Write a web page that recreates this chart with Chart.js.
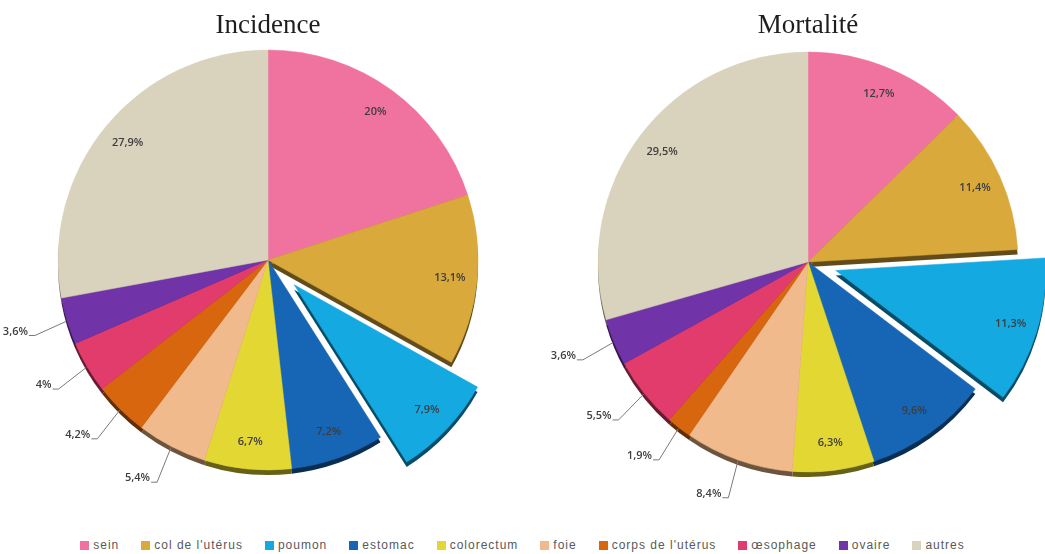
<!DOCTYPE html>
<html>
<head>
<meta charset="utf-8">
<script src="https://cdn.jsdelivr.net/npm/chart.js@4/dist/chart.umd.min.js"></script>
<style>
  html, body { margin: 0; padding: 0; background: #ffffff; width: 1045px; height: 554px; overflow: hidden; }
  #wrap { position: relative; width: 1045px; height: 554px; }
  canvas { position: absolute; left: 0; top: 0; }
  #legend { position: absolute; left: 0; top: 536px; width: 1045px; display: flex; justify-content: center;
            gap: 22px; font: 12px "Liberation Sans", Arial, sans-serif; letter-spacing: 1px;
            color: #595959; line-height: 18px; }
  #legend span.item { display: flex; align-items: center; white-space: nowrap; }
  #legend span.box { display: inline-block; width: 9px; height: 9px; margin-right: 4px; }
</style>
</head>
<body>
<div id="wrap">
  <canvas id="inc" width="1045" height="516"></canvas>
  <canvas id="mor" width="1045" height="516"></canvas>
  <div id="legend"></div>
</div>
<script>
// Cancer sites, clockwise from 12 o'clock
const categories = ['sein', "col de l'utérus", 'poumon', 'estomac', 'colorectum', 'foie',
                    "corps de l'utérus", 'œsophage', 'ovaire', 'autres'];
// Share of cases (%)
const incidence = [20, 13.1, 7.9, 7.2, 6.7, 5.4, 4.2, 4, 3.6, 27.9];
// Share of deaths (%)
const mortalite = [12.7, 11.4, 11.3, 9.6, 6.3, 8.4, 1.9, 5.5, 3.6, 29.5];
const colors = ['#F0729F', '#D9A93C', '#15A9E1', '#1766B6', '#E2D733', '#F0BA8C',
                '#D8660F', '#E13C6B', '#7133A8', '#D9D2BD'];

// Slice pulled out of the pie, and the slices labelled outside with a leader line
const explodedSlice = 2;
const outsideSlices = [5, 6, 7, 8];

const fmt = v => String(v).replace('.', ',') + '%';

function darker(hex, k) {
  const n = parseInt(hex.slice(1), 16);
  const r = Math.round(((n >> 16) & 255) * k), g = Math.round(((n >> 8) & 255) * k), b = Math.round((n & 255) * k);
  return `rgb(${r},${g},${b})`;
}

// Draws the slices with a shallow extruded rim and one slice pulled outwards
const pieDepth = {
  id: 'pieDepth',
  beforeDatasetDraw(chart, args, opts) {
    const ctx = chart.ctx;
    const arcs = args.meta.data;
    const shift = (arc, i) => {
      if (i !== explodedSlice) return [0, 0];
      const mid = (arc.startAngle + arc.endAngle) / 2;
      return [Math.cos(mid) * opts.explode, Math.sin(mid) * opts.explode];
    };
    // rim
    arcs.forEach((arc, i) => {
      const [dx, dy] = shift(arc, i);
      ctx.save();
      ctx.translate(dx + opts.depthX, dy + opts.depthY);
      ctx.beginPath();
      ctx.moveTo(arc.x, arc.y);
      ctx.arc(arc.x, arc.y, arc.outerRadius, arc.startAngle, arc.endAngle);
      ctx.closePath();
      ctx.fillStyle = darker(colors[i], 0.45);
      ctx.fill();
      ctx.restore();
    });
    // faces
    arcs.forEach((arc, i) => {
      const [dx, dy] = shift(arc, i);
      ctx.save();
      ctx.translate(dx, dy);
      arc.draw(ctx);
      ctx.restore();
    });
    return false;
  },
  afterDatasetsDraw(chart, args, opts) {
    const ctx = chart.ctx;
    const meta = chart.getDatasetMeta(0);
    const values = chart.data.datasets[0].data;
    ctx.save();
    ctx.font = '600 11px "Open Sans", "Liberation Sans", sans-serif';
    ctx.fillStyle = '#3d3d3d';
    ctx.textBaseline = 'middle';
    meta.data.forEach((arc, i) => {
      const mid = (arc.startAngle + arc.endAngle) / 2;
      const cx = Math.cos(mid), sy = Math.sin(mid);
      const r = arc.outerRadius;
      let ox = 0, oy = 0;
      if (i === explodedSlice) { ox = cx * opts.explode; oy = sy * opts.explode; }
      const text = fmt(values[i]);
      if (outsideSlices.includes(i)) {
        const ex = arc.x + cx * (r + 1), ey = arc.y + sy * (r + 1);
        const px = arc.x + cx * r * 1.17, py = arc.y + sy * r * 1.17;
        ctx.beginPath();
        ctx.strokeStyle = '#7a7a7a';
        ctx.lineWidth = 1;
        ctx.moveTo(ex, ey);
        ctx.lineTo(px + 2, py + 4);
        ctx.lineTo(px - 4, py + 4);
        ctx.stroke();
        ctx.textAlign = 'right';
        ctx.fillText(text, px - 5, py);
      } else {
        ctx.textAlign = 'center';
        ctx.fillText(text, arc.x + ox + cx * r * 0.87, arc.y + oy + sy * r * 0.87);
      }
    });
    ctx.restore();
  }
};

function pie(id, title, values, centerX, centerY, explode) {
  const W = 1045, H = 516;
  const titleBlock = 27 * 1.2 + 10;
  return new Chart(document.getElementById(id), {
    type: 'pie',
    data: {
      labels: categories,
      datasets: [{
        data: values,
        backgroundColor: colors,
        borderColor: colors,
        borderWidth: 0.5,
        radius: 210
      }]
    },
    options: {
      responsive: false,
      animation: false,
      events: [],
      layout: {
        padding: {
          left: Math.max(0, 2 * centerX - W),
          right: Math.max(0, W - 2 * centerX),
          top: 0,
          bottom: titleBlock + H - 2 * centerY
        }
      },
      plugins: {
        legend: { display: false },
        tooltip: { enabled: false },
        title: {
          display: true,
          text: title,
          color: '#1e1e1e',
          font: { family: '"Liberation Serif", "Times New Roman", serif', size: 27, weight: 'normal' },
          padding: { top: 10, bottom: 0 }
        },
        pieDepth: { explode: explode, depthX: 0, depthY: 5 }
      }
    },
    plugins: [pieDepth]
  });
}

pie('inc', 'Incidence', incidence, 268, 260, 36);
pie('mor', 'Mortalité', mortalite, 808, 262, 29);

// Shared legend
const legend = document.getElementById('legend');
categories.forEach((name, i) => {
  const item = document.createElement('span');
  item.className = 'item';
  const box = document.createElement('span');
  box.className = 'box';
  box.style.background = colors[i];
  item.appendChild(box);
  item.appendChild(document.createTextNode(name));
  legend.appendChild(item);
});
</script>
</body>
</html>
